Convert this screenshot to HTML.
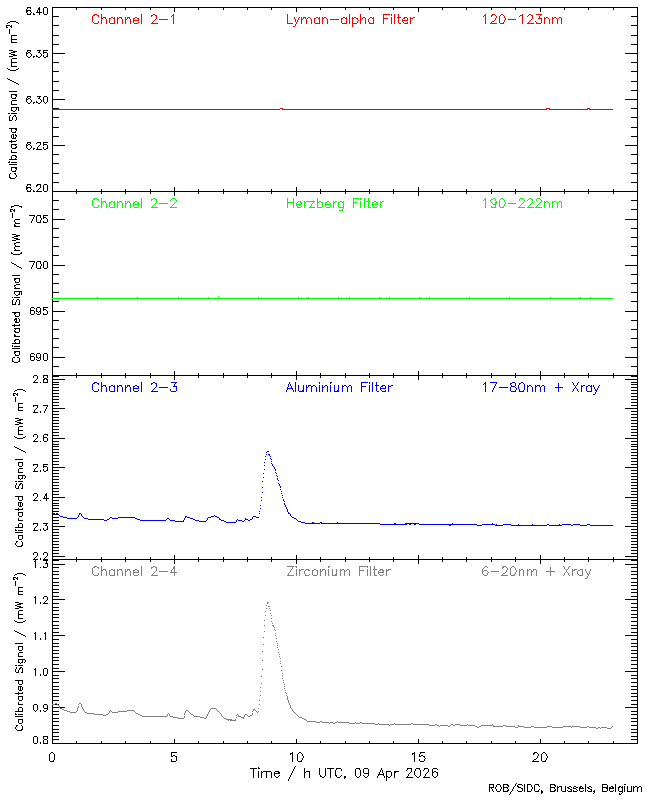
<!DOCTYPE html>
<html><head><meta charset="utf-8"><title>LYRA Calibrated Signal</title>
<style>
html,body{margin:0;padding:0;background:#fff;font-family:"Liberation Sans",sans-serif;}
svg{display:block}
</style></head><body>
<svg width="650" height="800" viewBox="0 0 650 800" shape-rendering="crispEdges" fill="none" stroke-width="1" stroke-linecap="butt">
<title>LYRA calibrated signal, 09 Apr 2026</title>
<desc>Channel 2-1 Lyman-alpha Filter 120-123nm; Channel 2-2 Herzberg Filter 190-222nm; Channel 2-3 Aluminium Filter 17-80nm + Xray; Channel 2-4 Zirconium Filter 6-20nm + Xray; Calibrated Signal / (mW m-2); Time / h UTC, 09 Apr 2026; ROB/SIDC, Brussels, Belgium</desc>
<rect x="0" y="0" width="650" height="800" fill="#fff" stroke="none"/>
<path stroke="#000000" d="M9.5 29v5M9.5 116v5M9.5 174v4M11.5 25v3M11.5 35v8M11.5 59v8M11.5 94v4M11.5 101v4M11.5 107v4M11.5 128v4M11.5 135v3M11.5 140v3M11.5 144v4M11.5 150v3M11.5 156v4M11.5 167v4M12.5 117v3M12.5 213v5M12.5 300v5M12.5 358v4M13.5 134v5M14.5 209v3M14.5 291v3M14.5 324v3M15.5 302v3M15.5 397v5M15.5 485v3M15.5 581v5M15.5 669v3M16.5 107v3M16.5 117v3M17.5 393v3M17.5 577v3M18.5 107v4M18.5 403v8M18.5 427v8M18.5 462v4M18.5 469v4M18.5 475v4M18.5 486v3M18.5 496v4M18.5 502v4M18.5 508v3M18.5 512v4M18.5 518v3M18.5 524v4M18.5 535v4M18.5 587v8M18.5 611v8M18.5 646v4M18.5 653v4M18.5 659v4M18.5 670v3M18.5 680v4M18.5 686v4M18.5 692v3M18.5 696v4M18.5 702v3M18.5 708v4M18.5 719v4M19.5 278v4M19.5 291v4M19.5 300v5M19.5 312v4M19.5 319v3M19.5 328v4M19.5 340v4M19.5 351v4M19.5 358v4M20.5 502v5M20.5 686v5M21.5 291v4M22.5 462v4M22.5 475v4M22.5 484v5M22.5 496v4M22.5 503v3M22.5 512v4M22.5 524v4M22.5 535v4M22.5 542v4M22.5 646v4M22.5 659v4M22.5 668v5M22.5 680v4M22.5 687v3M22.5 696v4M22.5 708v4M22.5 719v4M22.5 726v4M26.5 9v4M26.5 52v4M26.5 98v4M26.5 144v4M26.5 186v4M30.5 308v6M30.5 354v6M33.5 705v5M33.5 737v6M34.5 311v3M34.5 357v3M34.5 410v3M34.5 469v3M34.5 528v3M35.5 559v9M35.5 596v8M35.5 632v8M35.5 668v8M36.5 216v6M36.5 262v6M36.5 308v4M36.5 354v4M37.5 10v3M37.5 147v3M37.5 376v3M37.5 405v3M37.5 435v3M37.5 464v3M37.5 494v3M37.5 523v3M37.5 553v3M37.5 705v5M37.5 737v6M39.5 7v8M40.5 142v3M40.5 184v4M40.5 215v3M40.5 220v3M40.5 261v3M40.5 266v3M40.5 308v6M40.5 354v6M43.5 8v6M43.5 50v4M43.5 97v5M43.5 142v4M43.5 185v6M43.5 215v4M43.5 262v6M43.5 307v4M43.5 354v6M43.5 375v3M43.5 379v4M43.5 435v6M43.5 464v4M43.5 669v6M43.5 705v3M43.5 736v3M43.5 740v4M44.5 496v3M45.5 632v8M46.5 493v8M47.5 8v6M47.5 53v4M47.5 97v5M47.5 145v4M47.5 185v6M47.5 219v3M47.5 262v6M47.5 311v3M47.5 354v6M47.5 375v3M47.5 379v4M47.5 438v3M47.5 467v4M47.5 526v4M47.5 553v3M47.5 563v4M47.5 597v3M47.5 669v5M47.5 705v5M47.5 736v3M47.5 740v4M49.5 754v7M52.5 7v102M52.5 110v188M52.5 299v214M52.5 514v190M52.5 705v39M54.5 754v6M76.5 7v3M76.5 189v5M76.5 373v5M76.5 557v5M76.5 741v3M101.5 7v3M101.5 189v5M101.5 373v5M101.5 557v5M101.5 741v3M125.5 7v3M125.5 189v5M125.5 373v5M125.5 557v5M125.5 741v3M150.5 7v3M150.5 189v5M150.5 373v5M150.5 557v5M150.5 741v3M171.5 752v5M171.5 759v3M174.5 7v5M174.5 187v9M174.5 371v9M174.5 555v9M174.5 739v5M176.5 756v5M198.5 7v3M198.5 189v5M198.5 373v5M198.5 557v5M198.5 741v3M223.5 7v3M223.5 189v5M223.5 373v5M223.5 557v5M223.5 741v3M247.5 7v3M247.5 189v5M247.5 373v5M247.5 557v5M247.5 741v3M253.5 768v10M258.5 771v7M261.5 771v7M266.5 771v7M271.5 7v3M271.5 189v5M271.5 373v5M271.5 557v5M271.5 741v3M271.5 772v6M274.5 772v4M292.5 752v10M296.5 7v5M296.5 187v9M296.5 371v9M296.5 555v9M296.5 739v5M297.5 754v7M304.5 768v10M309.5 771v7M319.5 768v7M320.5 7v3M320.5 189v5M320.5 373v5M320.5 557v5M320.5 741v3M325.5 768v8M330.5 768v10M335.5 770v6M345.5 7v3M345.5 189v5M345.5 373v5M345.5 557v5M345.5 741v3M355.5 769v7M360.5 770v6M363.5 769v4M368.5 769v7M369.5 7v3M369.5 189v5M369.5 373v5M369.5 557v5M369.5 741v3M379.5 772v3M382.5 770v3M383.5 773v3M386.5 771v10M391.5 772v4M393.5 7v3M393.5 189v5M393.5 373v5M393.5 557v5M393.5 741v3M394.5 771v7M411.5 768v4M414.5 752v10M414.5 771v4M418.5 7v5M418.5 187v9M418.5 371v9M418.5 555v9M418.5 739v5M419.5 754v3M420.5 770v6M428.5 769v3M432.5 769v7M437.5 772v4M442.5 7v3M442.5 189v5M442.5 373v5M442.5 557v5M442.5 741v3M466.5 7v3M466.5 189v5M466.5 373v5M466.5 557v5M466.5 741v3M489.5 784v8M491.5 7v3M491.5 189v5M491.5 373v5M491.5 557v5M491.5 741v3M493.5 784v4M503.5 784v8M515.5 7v3M515.5 189v5M515.5 373v5M515.5 557v5M515.5 741v3M522.5 788v3M524.5 784v8M527.5 784v8M534.5 785v6M540.5 7v5M540.5 187v9M540.5 371v9M540.5 555v9M540.5 739v5M541.5 754v7M541.5 790v4M550.5 784v8M557.5 786v6M561.5 786v5M564.5 7v3M564.5 189v5M564.5 373v5M564.5 557v5M564.5 741v3M565.5 786v6M579.5 787v4M585.5 784v8M588.5 7v3M588.5 189v5M588.5 373v5M588.5 557v5M588.5 741v3M594.5 790v3M602.5 784v8M607.5 785v6M609.5 787v4M613.5 7v3M613.5 189v5M613.5 373v5M613.5 557v5M613.5 741v3M615.5 784v8M618.5 787v4M622.5 786v7M624.5 786v6M627.5 786v6M631.5 786v6M633.5 786v6M637.5 7v737M637.5 787v5M641.5 787v5M27 7.5h4M44 7.5h3M53 7.5h23M77 7.5h24M102 7.5h23M126 7.5h24M151 7.5h23M175 7.5h23M199 7.5h24M224 7.5h23M248 7.5h23M272 7.5h24M297 7.5h23M321 7.5h24M346 7.5h23M370 7.5h23M394 7.5h24M419 7.5h23M443 7.5h23M467 7.5h24M492 7.5h23M516 7.5h24M541 7.5h23M565 7.5h23M589 7.5h24M614 7.5h23M27 8.5h1M30 8.5h1M38 8.5h1M38 9.5h1M27 10.5h4M27 11.5h1M30 11.5h1M31 12.5h1M36 12.5h1M38 12.5h1M40 12.5h2M27 13.5h1M30 13.5h1M33 13.5h1M27 14.5h4M33 14.5h2M44 14.5h3M53 16.5h6M631 16.5h6M10 21.5h6M8 22.5h2M16 22.5h2M7 23.5h1M18 23.5h1M6 25.5h4M53 25.5h6M631 25.5h6M6 26.5h1M10 26.5h1M6 27.5h2M12 35.5h5M53 35.5h6M631 35.5h6M12 39.5h5M12 42.5h5M53 44.5h6M631 44.5h6M9 50.5h4M27 50.5h4M37 50.5h4M44 50.5h4M13 51.5h4M27 51.5h1M30 51.5h1M39 51.5h1M11 52.5h4M28 52.5h2M38 52.5h2M44 52.5h3M9 53.5h2M27 53.5h1M30 53.5h1M40 53.5h1M53 53.5h12M625 53.5h12M11 54.5h4M31 54.5h1M41 54.5h1M13 55.5h4M31 55.5h1M36 55.5h1M41 55.5h1M43 55.5h1M9 56.5h4M27 56.5h1M30 56.5h1M33 56.5h2M36 56.5h2M40 56.5h1M43 56.5h1M46 56.5h1M28 57.5h2M33 57.5h1M38 57.5h2M44 57.5h2M12 58.5h5M12 62.5h5M53 62.5h6M631 62.5h6M12 66.5h5M7 68.5h1M18 68.5h1M8 69.5h2M16 69.5h2M10 70.5h6M53 71.5h6M631 71.5h6M7 78.5h1M8 79.5h2M10 80.5h2M12 81.5h2M53 81.5h6M631 81.5h6M14 82.5h2M16 83.5h2M18 84.5h1M53 90.5h6M631 90.5h6M9 91.5h8M12 94.5h5M15 95.5h2M16 96.5h1M27 96.5h4M37 96.5h4M44 96.5h3M15 97.5h1M27 97.5h1M30 97.5h1M39 97.5h1M12 98.5h4M28 98.5h2M38 98.5h2M27 99.5h1M30 99.5h1M40 99.5h1M53 99.5h12M625 99.5h12M12 100.5h5M31 100.5h1M41 100.5h1M31 101.5h1M36 101.5h1M41 101.5h1M27 102.5h1M30 102.5h1M33 102.5h2M36 102.5h2M40 102.5h1M44 102.5h1M46 102.5h1M28 103.5h2M33 103.5h1M38 103.5h2M45 103.5h1M12 104.5h5M12 107.5h4M17 107.5h1M53 108.5h6M631 108.5h6M12 110.5h1M15 110.5h1M13 111.5h2M8 113.5h2M11 113.5h6M10 115.5h1M14 115.5h2M13 116.5h1M15 116.5h1M53 117.5h6M631 117.5h6M10 120.5h2M15 120.5h1M53 127.5h6M631 127.5h6M9 128.5h2M12 128.5h5M15 129.5h2M16 130.5h1M15 131.5h1M12 132.5h4M12 134.5h1M15 134.5h1M15 135.5h2M16 136.5h1M53 136.5h6M631 136.5h6M15 137.5h1M12 138.5h1M14 138.5h2M16 140.5h1M9 141.5h2M12 141.5h4M27 142.5h4M37 142.5h3M44 142.5h4M27 143.5h1M30 143.5h1M36 143.5h1M12 144.5h5M28 144.5h2M44 144.5h3M15 145.5h1M27 145.5h1M30 145.5h1M39 145.5h1M53 145.5h12M625 145.5h12M16 146.5h1M31 146.5h1M38 146.5h1M15 147.5h2M31 147.5h1M43 147.5h1M12 148.5h4M27 148.5h1M30 148.5h1M33 148.5h2M43 148.5h1M46 148.5h1M28 149.5h2M33 149.5h1M36 149.5h1M38 149.5h4M44 149.5h2M12 152.5h5M53 154.5h6M631 154.5h6M12 155.5h4M15 156.5h2M16 157.5h1M15 158.5h1M9 159.5h2M12 159.5h5M9 161.5h1M8 162.5h2M11 162.5h6M53 163.5h6M631 163.5h6M9 164.5h8M12 167.5h5M15 168.5h2M16 169.5h1M15 170.5h1M12 171.5h4M10 173.5h1M14 173.5h2M53 173.5h6M631 173.5h6M15 174.5h1M16 175.5h1M16 176.5h1M10 177.5h1M15 177.5h1M10 178.5h5M53 182.5h6M631 182.5h6M27 184.5h4M37 184.5h3M44 184.5h3M27 185.5h1M30 185.5h1M36 185.5h2M36 186.5h1M27 187.5h4M27 188.5h1M30 188.5h1M39 188.5h1M31 189.5h1M38 189.5h1M27 190.5h1M30 190.5h1M33 190.5h1M37 190.5h1M27 191.5h4M33 191.5h2M36 191.5h6M44 191.5h3M53 191.5h23M77 191.5h24M102 191.5h23M126 191.5h24M151 191.5h23M175 191.5h23M199 191.5h24M224 191.5h23M248 191.5h23M272 191.5h24M297 191.5h23M321 191.5h24M346 191.5h23M370 191.5h23M394 191.5h24M419 191.5h23M443 191.5h23M467 191.5h24M492 191.5h23M516 191.5h24M541 191.5h23M565 191.5h23M589 191.5h24M614 191.5h23M53 200.5h6M631 200.5h6M14 205.5h5M11 206.5h3M19 206.5h3M11 207.5h1M21 207.5h1M10 209.5h3M53 209.5h6M631 209.5h6M10 210.5h1M13 210.5h1M10 211.5h2M29 215.5h6M37 215.5h3M44 215.5h4M34 216.5h1M33 217.5h1M44 217.5h2M33 218.5h1M41 218.5h1M46 218.5h1M15 219.5h5M32 219.5h1M41 219.5h1M53 219.5h12M625 219.5h12M14 220.5h1M32 220.5h1M14 221.5h1M31 221.5h1M43 221.5h1M15 222.5h1M31 222.5h1M37 222.5h3M43 222.5h4M15 223.5h5M14 224.5h1M14 225.5h2M14 226.5h6M53 228.5h6M631 228.5h6M12 234.5h4M16 235.5h4M14 236.5h4M12 237.5h2M53 237.5h6M631 237.5h6M14 238.5h4M16 239.5h4M12 240.5h4M16 242.5h4M14 243.5h2M14 244.5h1M15 245.5h1M15 246.5h5M53 246.5h6M631 246.5h6M14 247.5h1M14 248.5h1M15 249.5h1M14 250.5h6M11 252.5h1M21 252.5h1M11 253.5h2M20 253.5h2M13 254.5h7M53 255.5h6M631 255.5h6M29 261.5h6M37 261.5h3M44 261.5h3M11 262.5h1M34 262.5h1M12 263.5h2M33 263.5h1M14 264.5h2M33 264.5h1M41 264.5h1M16 265.5h1M32 265.5h1M41 265.5h1M53 265.5h12M625 265.5h12M17 266.5h2M32 266.5h1M19 267.5h2M31 267.5h1M21 268.5h1M31 268.5h1M37 268.5h3M44 268.5h3M53 274.5h6M631 274.5h6M12 275.5h8M14 278.5h5M14 279.5h2M14 280.5h1M15 281.5h1M15 282.5h4M53 283.5h6M631 283.5h6M16 284.5h4M14 285.5h2M14 286.5h1M15 287.5h1M14 288.5h6M15 291.5h4M20 291.5h1M53 292.5h6M631 292.5h6M15 294.5h1M18 294.5h1M16 295.5h2M12 297.5h1M14 297.5h6M13 299.5h1M17 299.5h2M16 300.5h1M16 301.5h1M53 301.5h6M631 301.5h6M13 304.5h2M18 304.5h1M31 307.5h3M37 307.5h3M44 307.5h4M34 308.5h1M44 309.5h2M31 310.5h3M46 310.5h1M37 311.5h1M39 311.5h1M53 311.5h12M625 311.5h12M12 312.5h7M38 312.5h1M14 313.5h2M36 313.5h1M43 313.5h1M14 314.5h1M31 314.5h3M37 314.5h3M43 314.5h4M15 315.5h1M15 316.5h4M15 318.5h2M18 318.5h1M14 319.5h3M14 320.5h1M16 320.5h1M53 320.5h6M631 320.5h6M15 321.5h2M15 322.5h4M19 324.5h1M12 325.5h2M15 325.5h5M14 328.5h5M15 329.5h1M53 329.5h6M631 329.5h6M14 330.5h1M14 331.5h2M15 332.5h4M14 334.5h1M14 335.5h2M14 336.5h6M53 338.5h6M631 338.5h6M15 339.5h4M14 340.5h2M14 341.5h1M15 342.5h1M12 343.5h7M12 345.5h1M12 346.5h1M14 346.5h6M53 347.5h6M631 347.5h6M12 348.5h8M14 351.5h5M14 352.5h2M14 353.5h1M31 353.5h3M37 353.5h3M44 353.5h3M15 354.5h1M34 354.5h1M15 355.5h4M31 356.5h3M13 357.5h2M17 357.5h2M37 357.5h1M39 357.5h1M53 357.5h12M625 357.5h12M38 358.5h1M36 359.5h1M31 360.5h3M37 360.5h3M44 360.5h3M13 361.5h1M18 361.5h1M14 362.5h4M53 366.5h6M631 366.5h6M34 375.5h3M44 375.5h3M53 375.5h23M77 375.5h24M102 375.5h23M126 375.5h24M151 375.5h23M175 375.5h23M199 375.5h24M224 375.5h23M248 375.5h23M272 375.5h24M297 375.5h23M321 375.5h24M346 375.5h23M370 375.5h23M394 375.5h24M419 375.5h23M443 375.5h23M467 375.5h24M492 375.5h23M516 375.5h24M541 375.5h23M565 375.5h23M589 375.5h24M614 375.5h23M33 376.5h1M53 376.5h6M631 376.5h6M33 377.5h1M44 378.5h3M36 379.5h1M44 379.5h1M46 379.5h1M53 379.5h12M625 379.5h12M35 380.5h1M34 381.5h1M33 382.5h5M40 382.5h1M44 382.5h3M53 382.5h6M631 382.5h6M53 384.5h6M631 384.5h6M53 387.5h6M631 387.5h6M17 389.5h6M15 390.5h2M23 390.5h2M53 390.5h6M631 390.5h6M14 391.5h1M25 391.5h1M13 393.5h3M53 393.5h6M631 393.5h6M13 394.5h1M16 394.5h1M13 395.5h2M53 396.5h6M631 396.5h6M53 399.5h6M631 399.5h6M53 402.5h6M631 402.5h6M19 403.5h4M33 405.5h4M43 405.5h5M53 405.5h6M631 405.5h6M33 406.5h1M47 406.5h1M19 407.5h4M46 407.5h1M36 408.5h1M46 408.5h1M53 408.5h12M625 408.5h12M35 409.5h1M45 409.5h1M19 410.5h4M45 410.5h1M40 411.5h1M44 411.5h1M53 411.5h6M631 411.5h6M33 412.5h1M35 412.5h3M40 412.5h1M44 412.5h1M53 414.5h6M631 414.5h6M53 417.5h6M631 417.5h6M15 418.5h4M19 419.5h4M17 420.5h4M53 420.5h6M631 420.5h6M15 421.5h2M17 422.5h4M19 423.5h4M53 423.5h6M631 423.5h6M15 424.5h4M19 426.5h4M53 426.5h6M631 426.5h6M53 429.5h6M631 429.5h6M19 430.5h4M53 432.5h6M631 432.5h6M19 434.5h4M34 434.5h3M44 434.5h4M33 435.5h1M47 435.5h1M53 435.5h6M631 435.5h6M14 436.5h1M25 436.5h1M33 436.5h1M15 437.5h2M23 437.5h2M44 437.5h3M17 438.5h6M36 438.5h1M53 438.5h12M625 438.5h12M35 439.5h1M34 440.5h1M33 441.5h5M40 441.5h1M44 441.5h3M53 441.5h6M631 441.5h6M53 444.5h6M631 444.5h6M14 446.5h1M53 446.5h6M631 446.5h6M15 447.5h2M17 448.5h2M19 449.5h2M53 449.5h6M631 449.5h6M21 450.5h2M23 451.5h2M25 452.5h1M53 452.5h6M631 452.5h6M53 455.5h6M631 455.5h6M53 458.5h6M631 458.5h6M15 459.5h8M53 461.5h6M631 461.5h6M19 462.5h3M33 464.5h4M44 464.5h4M53 464.5h6M631 464.5h6M33 465.5h1M19 466.5h3M44 466.5h3M36 467.5h1M53 467.5h12M625 467.5h12M19 468.5h4M35 468.5h1M43 469.5h1M40 470.5h1M43 470.5h1M46 470.5h1M53 470.5h6M631 470.5h6M33 471.5h1M35 471.5h3M40 471.5h1M44 471.5h2M19 472.5h4M53 473.5h6M631 473.5h6M19 475.5h3M23 475.5h2M25 476.5h1M53 476.5h6M631 476.5h6M25 477.5h1M19 478.5h1M21 478.5h1M24 478.5h1M20 479.5h1M53 479.5h6M631 479.5h6M15 481.5h2M18 481.5h5M53 482.5h6M631 482.5h6M16 483.5h1M20 483.5h2M16 484.5h1M19 484.5h2M19 485.5h1M53 485.5h6M631 485.5h6M16 488.5h2M21 488.5h1M53 488.5h6M631 488.5h6M53 491.5h6M631 491.5h6M34 493.5h3M33 494.5h1M45 494.5h1M53 494.5h6M631 494.5h6M33 495.5h1M45 495.5h1M15 496.5h3M19 496.5h3M36 497.5h1M53 497.5h12M625 497.5h12M35 498.5h1M43 498.5h1M45 498.5h1M47 498.5h2M34 499.5h1M19 500.5h3M33 500.5h5M40 500.5h1M53 500.5h6M631 500.5h6M19 502.5h1M21 502.5h1M53 503.5h6M631 503.5h6M53 505.5h6M631 505.5h6M19 506.5h1M21 506.5h1M22 508.5h1M53 508.5h6M631 508.5h6M15 509.5h3M19 509.5h4M53 511.5h6M631 511.5h6M19 512.5h3M53 514.5h2M56 514.5h2M631 514.5h6M19 516.5h3M53 517.5h6M631 517.5h6M19 520.5h4M53 520.5h6M631 520.5h6M19 523.5h3M33 523.5h4M43 523.5h5M53 523.5h6M631 523.5h6M33 524.5h1M46 524.5h1M45 525.5h2M36 526.5h1M53 526.5h12M625 526.5h12M15 527.5h3M19 527.5h3M35 527.5h1M43 528.5h1M15 529.5h1M40 529.5h1M43 529.5h1M46 529.5h1M53 529.5h6M631 529.5h6M15 530.5h2M18 530.5h5M33 530.5h1M35 530.5h3M40 530.5h1M44 530.5h2M15 532.5h8M53 532.5h6M631 532.5h6M19 535.5h3M53 535.5h6M631 535.5h6M53 538.5h6M631 538.5h6M19 539.5h3M16 541.5h2M21 541.5h1M53 541.5h6M631 541.5h6M16 542.5h1M15 543.5h1M15 544.5h1M53 544.5h6M631 544.5h6M16 545.5h1M21 545.5h1M17 546.5h5M53 547.5h6M631 547.5h6M53 550.5h6M631 550.5h6M34 552.5h3M44 552.5h3M33 553.5h1M43 553.5h1M53 553.5h6M631 553.5h6M33 554.5h1M43 554.5h1M36 556.5h1M46 556.5h1M53 556.5h12M625 556.5h12M35 557.5h1M45 557.5h1M34 558.5h1M40 558.5h1M44 558.5h1M33 559.5h2M36 559.5h2M40 559.5h1M43 559.5h5M53 559.5h23M77 559.5h24M102 559.5h23M126 559.5h24M151 559.5h23M175 559.5h23M199 559.5h24M224 559.5h23M248 559.5h23M272 559.5h24M297 559.5h23M321 559.5h24M346 559.5h23M370 559.5h23M394 559.5h24M419 559.5h23M443 559.5h23M467 559.5h24M492 559.5h23M516 559.5h24M541 559.5h23M565 559.5h23M589 559.5h24M614 559.5h23M43 560.5h5M53 560.5h6M631 560.5h6M34 561.5h1M46 561.5h1M46 562.5h1M45 563.5h2M53 564.5h12M625 564.5h12M43 566.5h1M40 567.5h1M43 567.5h4M53 567.5h6M631 567.5h6M53 571.5h6M631 571.5h6M17 573.5h6M15 574.5h2M23 574.5h2M53 574.5h6M631 574.5h6M14 575.5h1M25 575.5h1M13 577.5h3M13 578.5h1M16 578.5h1M53 578.5h6M631 578.5h6M13 579.5h2M53 582.5h6M631 582.5h6M53 585.5h6M631 585.5h6M19 587.5h4M53 589.5h6M631 589.5h6M19 591.5h4M53 592.5h6M631 592.5h6M19 594.5h4M44 596.5h3M53 596.5h6M631 596.5h6M34 597.5h1M43 597.5h1M43 598.5h1M53 599.5h12M625 599.5h12M46 600.5h1M45 601.5h1M15 602.5h4M40 602.5h1M44 602.5h1M19 603.5h4M40 603.5h1M43 603.5h5M53 603.5h6M631 603.5h6M17 604.5h4M15 605.5h2M17 606.5h4M19 607.5h4M53 607.5h6M631 607.5h6M15 608.5h4M19 610.5h4M53 610.5h6M631 610.5h6M19 614.5h4M53 614.5h6M631 614.5h6M53 617.5h6M631 617.5h6M19 618.5h4M14 620.5h1M25 620.5h1M15 621.5h2M23 621.5h2M53 621.5h6M631 621.5h6M17 622.5h6M53 625.5h6M631 625.5h6M53 628.5h6M631 628.5h6M14 630.5h1M15 631.5h2M17 632.5h2M53 632.5h6M631 632.5h6M19 633.5h2M34 633.5h1M44 633.5h1M21 634.5h2M23 635.5h2M53 635.5h12M625 635.5h12M25 636.5h1M40 638.5h1M40 639.5h1M53 639.5h6M631 639.5h6M15 643.5h8M53 643.5h6M631 643.5h6M19 646.5h3M53 646.5h6M631 646.5h6M19 650.5h3M53 650.5h6M631 650.5h6M19 652.5h4M53 653.5h6M631 653.5h6M19 656.5h4M53 657.5h6M631 657.5h6M19 659.5h3M23 659.5h2M25 660.5h1M53 660.5h6M631 660.5h6M25 661.5h1M19 662.5h1M21 662.5h1M24 662.5h1M20 663.5h1M53 664.5h6M631 664.5h6M15 665.5h2M18 665.5h5M16 667.5h1M20 667.5h2M16 668.5h1M19 668.5h2M44 668.5h3M53 668.5h6M631 668.5h6M19 669.5h1M34 669.5h1M53 671.5h12M625 671.5h12M16 672.5h2M21 672.5h1M40 674.5h1M46 674.5h1M40 675.5h1M44 675.5h3M53 675.5h6M631 675.5h6M53 678.5h6M631 678.5h6M15 680.5h3M19 680.5h3M53 682.5h6M631 682.5h6M19 684.5h3M19 686.5h1M21 686.5h1M53 686.5h6M631 686.5h6M53 689.5h6M631 689.5h6M19 690.5h1M21 690.5h1M22 692.5h1M15 693.5h3M19 693.5h4M53 693.5h6M631 693.5h6M19 696.5h3M53 696.5h6M631 696.5h6M19 700.5h3M53 700.5h6M631 700.5h6M19 704.5h4M34 704.5h3M44 704.5h3M55 704.5h2M58 704.5h1M631 704.5h6M19 707.5h3M53 707.5h6M60 707.5h5M625 707.5h12M44 708.5h3M34 710.5h1M36 710.5h1M40 710.5h1M43 710.5h1M46 710.5h1M15 711.5h3M19 711.5h3M35 711.5h1M40 711.5h1M44 711.5h2M53 711.5h6M631 711.5h6M15 713.5h1M15 714.5h2M18 714.5h5M53 714.5h6M631 714.5h6M15 716.5h8M53 718.5h6M631 718.5h6M19 719.5h3M53 721.5h6M631 721.5h6M19 723.5h3M16 725.5h2M21 725.5h1M53 725.5h6M631 725.5h6M16 726.5h1M15 727.5h1M15 728.5h1M16 729.5h1M21 729.5h1M53 729.5h6M631 729.5h6M17 730.5h5M53 732.5h6M631 732.5h6M34 736.5h3M44 736.5h3M53 736.5h6M631 736.5h6M44 739.5h3M53 739.5h6M631 739.5h6M40 742.5h1M34 743.5h3M40 743.5h1M44 743.5h3M53 743.5h23M77 743.5h24M102 743.5h23M126 743.5h24M151 743.5h23M175 743.5h23M199 743.5h24M224 743.5h23M248 743.5h23M272 743.5h24M297 743.5h23M321 743.5h24M346 743.5h23M370 743.5h23M394 743.5h24M419 743.5h23M443 743.5h23M467 743.5h24M492 743.5h23M516 743.5h24M541 743.5h23M565 743.5h23M589 743.5h24M614 743.5h23M51 752.5h2M172 752.5h5M299 752.5h2M420 752.5h5M534 752.5h3M543 752.5h2M50 753.5h1M53 753.5h1M290 753.5h2M298 753.5h1M301 753.5h1M412 753.5h2M420 753.5h1M533 753.5h2M537 753.5h1M542 753.5h1M545 753.5h1M290 754.5h1M302 754.5h1M412 754.5h1M533 754.5h1M538 754.5h1M546 754.5h1M173 755.5h2M302 755.5h1M421 755.5h2M538 755.5h1M546 755.5h1M172 756.5h1M175 756.5h1M303 756.5h1M420 756.5h1M423 756.5h2M537 756.5h1M547 756.5h1M303 757.5h1M424 757.5h1M537 757.5h1M547 757.5h1M302 758.5h1M425 758.5h1M536 758.5h1M546 758.5h1M302 759.5h1M419 759.5h1M424 759.5h1M534 759.5h2M546 759.5h1M53 760.5h1M301 760.5h1M419 760.5h1M424 760.5h1M533 760.5h1M545 760.5h1M50 761.5h4M172 761.5h4M298 761.5h4M420 761.5h4M532 761.5h7M542 761.5h4M295 766.5h1M258 767.5h1M294 767.5h1M250 768.5h3M254 768.5h3M258 768.5h2M294 768.5h1M327 768.5h3M331 768.5h3M336 768.5h5M356 768.5h4M364 768.5h4M381 768.5h1M407 768.5h4M416 768.5h4M424 768.5h4M433 768.5h4M293 769.5h1M336 769.5h1M341 769.5h1M359 769.5h1M381 769.5h1M407 769.5h1M415 769.5h1M419 769.5h1M424 769.5h1M437 769.5h1M293 770.5h1M341 770.5h1M380 770.5h1M406 770.5h1M415 770.5h1M423 770.5h1M263 771.5h3M267 771.5h4M275 771.5h4M292 771.5h1M306 771.5h3M380 771.5h1M387 771.5h4M395 771.5h4M434 771.5h2M262 772.5h1M278 772.5h2M292 772.5h1M305 772.5h1M395 772.5h1M410 772.5h1M427 772.5h1M433 772.5h1M436 772.5h1M275 773.5h5M291 773.5h1M364 773.5h4M409 773.5h1M426 773.5h1M291 774.5h1M378 774.5h1M380 774.5h3M408 774.5h1M425 774.5h1M279 775.5h1M290 775.5h1M320 775.5h1M336 775.5h1M341 775.5h1M363 775.5h1M378 775.5h1M408 775.5h1M415 775.5h1M425 775.5h1M275 776.5h1M278 776.5h1M290 776.5h1M320 776.5h2M324 776.5h1M336 776.5h1M340 776.5h1M344 776.5h2M356 776.5h1M359 776.5h1M364 776.5h1M367 776.5h1M377 776.5h1M384 776.5h1M387 776.5h1M390 776.5h1M407 776.5h1M416 776.5h1M419 776.5h1M424 776.5h1M433 776.5h1M436 776.5h1M276 777.5h2M289 777.5h1M322 777.5h2M337 777.5h3M344 777.5h2M357 777.5h2M365 777.5h2M377 777.5h1M384 777.5h1M388 777.5h2M406 777.5h7M417 777.5h2M423 777.5h7M434 777.5h2M289 778.5h1M344 778.5h1M288 779.5h1M288 780.5h1M516 783.5h1M490 784.5h3M497 784.5h3M504 784.5h4M515 784.5h1M518 784.5h4M528 784.5h3M535 784.5h4M551 784.5h4M603 784.5h4M624 784.5h2M496 785.5h1M500 785.5h1M507 785.5h2M515 785.5h1M517 785.5h1M522 785.5h1M531 785.5h1M538 785.5h1M554 785.5h2M496 786.5h1M500 786.5h1M508 786.5h1M514 786.5h1M517 786.5h2M531 786.5h1M539 786.5h1M555 786.5h1M559 786.5h2M569 786.5h2M574 786.5h2M580 786.5h2M589 786.5h2M611 786.5h2M619 786.5h2M635 786.5h2M639 786.5h2M490 787.5h3M495 787.5h1M501 787.5h1M504 787.5h4M513 787.5h1M518 787.5h3M532 787.5h1M551 787.5h4M558 787.5h1M567 787.5h2M571 787.5h1M573 787.5h1M576 787.5h2M580 787.5h1M582 787.5h1M587 787.5h2M591 787.5h1M603 787.5h4M610 787.5h1M612 787.5h2M619 787.5h1M621 787.5h1M634 787.5h1M638 787.5h1M491 788.5h1M495 788.5h1M501 788.5h1M507 788.5h1M513 788.5h1M521 788.5h1M532 788.5h1M554 788.5h1M568 788.5h2M573 788.5h3M580 788.5h4M588 788.5h2M606 788.5h1M610 788.5h4M492 789.5h1M496 789.5h1M500 789.5h1M508 789.5h1M512 789.5h1M531 789.5h1M539 789.5h1M555 789.5h1M570 789.5h2M576 789.5h1M590 789.5h2M492 790.5h1M496 790.5h1M500 790.5h1M507 790.5h2M512 790.5h1M517 790.5h1M531 790.5h1M538 790.5h1M554 790.5h2M567 790.5h1M571 790.5h1M573 790.5h1M577 790.5h1M583 790.5h1M587 790.5h1M591 790.5h1M613 790.5h1M493 791.5h1M497 791.5h3M504 791.5h4M511 791.5h1M518 791.5h4M528 791.5h3M535 791.5h4M542 791.5h1M551 791.5h4M562 791.5h3M568 791.5h4M573 791.5h4M580 791.5h3M588 791.5h4M593 791.5h1M603 791.5h4M610 791.5h3M619 791.5h3M628 791.5h3M510 792.5h1M542 792.5h1M510 793.5h1M593 793.5h1M619 793.5h1M621 793.5h1M509 794.5h1M619 794.5h2"/>
<path stroke="#808080" d="M77.5 708v3M81.5 704v3M92.5 568v6M101.5 566v10M106.5 571v5M109.5 570v5M114.5 569v7M117.5 569v7M122.5 571v5M125.5 569v7M130.5 571v5M133.5 570v5M141.5 566v10M156.5 567v4M171.5 570v3M174.5 566v10M287.5 696v4M288.5 573v3M288.5 700v3M290.5 705v3M292.5 566v3M296.5 569v7M299.5 569v7M304.5 571v3M312.5 570v5M317.5 570v5M320.5 569v7M325.5 570v6M328.5 569v7M332.5 569v7M336.5 569v7M340.5 569v7M344.5 570v6M349.5 570v6M359.5 566v10M367.5 569v7M370.5 566v10M374.5 566v10M378.5 571v3M386.5 569v7M482.5 569v5M510.5 568v7M519.5 569v7M523.5 570v6M527.5 569v7M531.5 570v6M536.5 570v6M550.5 567v9M572.5 569v7M577.5 571v3M582.5 569v7M589.5 571v3M94 566.5h3M153 566.5h2M287 566.5h5M293 566.5h1M295 566.5h2M328 566.5h2M360 566.5h8M485 566.5h2M503 566.5h3M512 566.5h2M563 566.5h1M569 566.5h1M93 567.5h2M97 567.5h2M151 567.5h2M155 567.5h1M173 567.5h1M296 567.5h1M328 567.5h1M367 567.5h1M484 567.5h1M487 567.5h1M502 567.5h2M506 567.5h1M511 567.5h1M514 567.5h1M564 567.5h1M568 567.5h1M98 568.5h1M151 568.5h1M173 568.5h1M483 568.5h1M502 568.5h1M507 568.5h1M515 568.5h1M564 568.5h1M568 568.5h1M103 569.5h3M111 569.5h2M119 569.5h3M127 569.5h3M135 569.5h2M172 569.5h1M291 569.5h1M301 569.5h3M306 569.5h3M314 569.5h2M322 569.5h3M342 569.5h2M347 569.5h2M373 569.5h1M375 569.5h2M380 569.5h3M388 569.5h3M507 569.5h1M515 569.5h1M521 569.5h2M529 569.5h2M533 569.5h3M565 569.5h1M567 569.5h1M574 569.5h3M580 569.5h2M585 569.5h1M590 569.5h1M102 570.5h1M105 570.5h1M110 570.5h1M113 570.5h1M118 570.5h1M121 570.5h1M127 570.5h1M129 570.5h1M134 570.5h1M137 570.5h2M290 570.5h1M300 570.5h1M305 570.5h1M308 570.5h2M313 570.5h1M316 570.5h1M322 570.5h1M341 570.5h1M346 570.5h1M360 570.5h4M379 570.5h2M382 570.5h2M387 570.5h2M484 570.5h3M506 570.5h1M516 570.5h1M520 570.5h1M528 570.5h1M533 570.5h1M566 570.5h1M573 570.5h2M578 570.5h2M585 570.5h1M590 570.5h1M126 571.5h1M138 571.5h1M155 571.5h1M159 571.5h9M290 571.5h1M321 571.5h1M345 571.5h1M383 571.5h1M483 571.5h1M487 571.5h1M491 571.5h8M506 571.5h1M516 571.5h1M532 571.5h1M546 571.5h4M551 571.5h4M566 571.5h1M586 571.5h1M134 572.5h5M154 572.5h1M170 572.5h1M172 572.5h2M175 572.5h2M289 572.5h1M379 572.5h5M488 572.5h1M505 572.5h1M515 572.5h1M565 572.5h1M567 572.5h1M586 572.5h1M98 573.5h1M153 573.5h1M487 573.5h1M503 573.5h2M515 573.5h1M564 573.5h1M568 573.5h1M587 573.5h1M93 574.5h1M98 574.5h1M138 574.5h1M152 574.5h1M305 574.5h1M309 574.5h1M335 574.5h1M379 574.5h1M383 574.5h1M483 574.5h1M487 574.5h1M502 574.5h1M514 574.5h1M564 574.5h1M568 574.5h1M578 574.5h1M587 574.5h2M94 575.5h4M110 575.5h4M134 575.5h4M151 575.5h7M287 575.5h1M289 575.5h5M305 575.5h4M313 575.5h4M333 575.5h3M375 575.5h2M380 575.5h3M484 575.5h3M501 575.5h7M511 575.5h4M563 575.5h1M569 575.5h1M579 575.5h3M588 575.5h1M587 576.5h1M587 577.5h1M585 578.5h2M267 602.5h2M267 603.5h1M266 605.5h1M268 606.5h2M266 608.5h1M269 608.5h1M270 610.5h1M265 611.5h1M270 613.5h1M265 615.5h1M271 615.5h1M271 618.5h1M264 620.5h1M271 621.5h1M272 623.5h1M264 625.5h1M272 625.5h2M273 626.5h1M274 627.5h1M274 629.5h1M275 630.5h1M264 631.5h1M275 633.5h1M275 635.5h1M263 637.5h1M276 638.5h1M276 641.5h1M277 643.5h1M263 644.5h1M277 645.5h1M277 647.5h1M278 649.5h1M262 651.5h1M278 652.5h1M279 654.5h1M279 656.5h1M280 658.5h1M262 660.5h1M280 661.5h1M280 663.5h1M281 666.5h1M262 669.5h1M281 670.5h1M282 673.5h1M282 675.5h1M261 676.5h1M282 678.5h1M283 680.5h1M283 682.5h1M261 683.5h1M284 684.5h1M284 686.5h1M260 687.5h1M284 688.5h1M285 690.5h1M260 691.5h1M285 692.5h1M286 693.5h1M260 695.5h1M286 695.5h1M259 700.5h1M55 703.5h2M79 703.5h2M289 703.5h1M52 704.5h3M57 704.5h1M78 704.5h1M259 704.5h1M289 704.5h1M58 705.5h1M59 706.5h1M78 706.5h1M59 707.5h1M78 707.5h1M82 707.5h1M60 708.5h2M82 708.5h1M211 708.5h5M258 708.5h1M291 708.5h1M62 709.5h2M83 709.5h1M210 709.5h1M216 709.5h1M253 709.5h2M292 709.5h1M64 710.5h3M83 710.5h1M110 710.5h1M127 710.5h7M186 710.5h2M209 710.5h1M217 710.5h1M253 710.5h1M255 710.5h1M292 710.5h1M67 711.5h3M76 711.5h1M84 711.5h1M109 711.5h1M111 711.5h1M118 711.5h9M134 711.5h1M185 711.5h1M188 711.5h1M209 711.5h1M218 711.5h1M252 711.5h1M256 711.5h1M258 711.5h1M293 711.5h1M70 712.5h6M85 712.5h2M109 712.5h1M112 712.5h6M135 712.5h1M185 712.5h1M189 712.5h1M208 712.5h1M219 712.5h1M257 712.5h1M294 712.5h1M87 713.5h7M108 713.5h1M136 713.5h2M168 713.5h1M184 713.5h1M190 713.5h1M208 713.5h1M220 713.5h1M252 713.5h1M295 713.5h1M94 714.5h9M106 714.5h2M138 714.5h2M167 714.5h1M169 714.5h1M184 714.5h1M191 714.5h2M207 714.5h1M221 714.5h1M237 714.5h1M245 714.5h2M252 714.5h1M296 714.5h1M103 715.5h3M140 715.5h2M167 715.5h1M169 715.5h1M193 715.5h1M207 715.5h1M221 715.5h1M236 715.5h1M238 715.5h1M244 715.5h1M247 715.5h1M250 715.5h2M297 715.5h1M142 716.5h25M170 716.5h3M184 716.5h1M194 716.5h6M206 716.5h1M222 716.5h1M238 716.5h3M244 716.5h1M248 716.5h2M298 716.5h1M173 717.5h5M184 717.5h1M200 717.5h4M206 717.5h1M223 717.5h1M236 717.5h1M241 717.5h3M299 717.5h3M178 718.5h6M204 718.5h2M224 718.5h2M243 718.5h1M302 718.5h2M226 719.5h6M235 719.5h1M304 719.5h2M228 720.5h1M230 720.5h6M306 720.5h1M307 721.5h9M320 721.5h2M337 721.5h1M316 722.5h4M322 722.5h7M330 722.5h3M335 722.5h2M338 722.5h11M355 722.5h1M360 722.5h2M329 723.5h1M333 723.5h2M349 723.5h6M356 723.5h4M362 723.5h13M378 723.5h1M394 723.5h1M411 723.5h2M375 724.5h3M379 724.5h10M390 724.5h4M395 724.5h16M413 724.5h16M435 724.5h2M451 724.5h2M455 724.5h5M467 724.5h1M492 724.5h1M389 725.5h1M429 725.5h6M437 725.5h2M440 725.5h8M450 725.5h1M453 725.5h2M460 725.5h7M468 725.5h7M481 725.5h11M493 725.5h1M503 725.5h3M518 725.5h1M439 726.5h1M448 726.5h2M475 726.5h2M479 726.5h2M493 726.5h10M506 726.5h9M518 726.5h6M531 726.5h3M547 726.5h5M563 726.5h8M572 726.5h8M587 726.5h2M612 726.5h1M477 727.5h2M515 727.5h3M524 727.5h7M534 727.5h13M552 727.5h11M571 727.5h1M580 727.5h7M589 727.5h7M598 727.5h2M601 727.5h6M611 727.5h1M596 728.5h2M600 728.5h1M607 728.5h4"/>
<path stroke="#ff0000" d="M92.5 16v6M101.5 14v10M106.5 19v5M109.5 18v5M114.5 17v7M117.5 17v7M122.5 19v5M125.5 17v7M130.5 19v5M133.5 18v5M141.5 14v10M156.5 15v4M173.5 14v10M287.5 14v10M295.5 19v3M301.5 17v7M306.5 19v5M311.5 19v5M314.5 18v5M319.5 17v7M322.5 17v7M327.5 19v5M341.5 18v5M346.5 17v7M349.5 14v10M352.5 17v10M360.5 14v10M365.5 18v6M368.5 19v3M373.5 17v7M383.5 14v10M391.5 17v7M394.5 14v10M398.5 14v9M402.5 19v3M407.5 18v3M410.5 17v7M485.5 14v10M499.5 16v7M522.5 14v10M532.5 15v4M539.5 16v3M541.5 18v5M544.5 17v7M549.5 19v5M552.5 17v7M557.5 19v5M561.5 18v6M94 14.5h3M153 14.5h2M384 14.5h6M391 14.5h1M492 14.5h3M501 14.5h2M529 14.5h2M536 14.5h6M93 15.5h2M97 15.5h2M151 15.5h2M155 15.5h1M172 15.5h1M391 15.5h1M484 15.5h1M491 15.5h2M495 15.5h1M500 15.5h1M503 15.5h1M520 15.5h2M528 15.5h1M531 15.5h1M540 15.5h1M98 16.5h1M151 16.5h1M171 16.5h1M483 16.5h1M491 16.5h1M496 16.5h1M504 16.5h1M519 16.5h1M527 16.5h1M103 17.5h3M111 17.5h2M119 17.5h3M127 17.5h3M135 17.5h2M294 17.5h1M299 17.5h1M303 17.5h3M308 17.5h2M316 17.5h2M324 17.5h2M343 17.5h2M354 17.5h2M363 17.5h2M370 17.5h2M397 17.5h1M399 17.5h2M404 17.5h3M413 17.5h2M496 17.5h1M504 17.5h1M546 17.5h2M554 17.5h2M559 17.5h2M102 18.5h1M105 18.5h1M110 18.5h1M113 18.5h1M118 18.5h1M121 18.5h1M127 18.5h1M129 18.5h1M134 18.5h1M137 18.5h2M294 18.5h1M298 18.5h1M303 18.5h1M305 18.5h1M307 18.5h1M310 18.5h1M315 18.5h1M318 18.5h1M323 18.5h1M326 18.5h1M342 18.5h1M345 18.5h1M353 18.5h1M356 18.5h2M362 18.5h1M369 18.5h1M372 18.5h1M384 18.5h4M403 18.5h2M411 18.5h2M495 18.5h1M505 18.5h1M538 18.5h1M540 18.5h1M545 18.5h1M548 18.5h1M553 18.5h1M556 18.5h1M558 18.5h1M126 19.5h1M138 19.5h1M155 19.5h1M159 19.5h9M298 19.5h1M302 19.5h1M330 19.5h9M357 19.5h1M361 19.5h1M495 19.5h1M505 19.5h1M508 19.5h8M531 19.5h1M134 20.5h5M154 20.5h1M297 20.5h1M358 20.5h1M403 20.5h4M494 20.5h1M504 20.5h1M530 20.5h1M98 21.5h1M153 21.5h1M297 21.5h1M357 21.5h1M492 21.5h2M504 21.5h1M529 21.5h1M535 21.5h1M93 22.5h1M98 22.5h1M138 22.5h1M152 22.5h1M296 22.5h1M357 22.5h1M369 22.5h1M403 22.5h1M407 22.5h1M491 22.5h1M503 22.5h1M528 22.5h1M536 22.5h1M94 23.5h4M110 23.5h4M134 23.5h4M151 23.5h7M288 23.5h5M296 23.5h1M315 23.5h4M342 23.5h4M353 23.5h4M369 23.5h4M399 23.5h2M404 23.5h4M490 23.5h7M500 23.5h4M527 23.5h7M536 23.5h5M295 24.5h1M295 25.5h1M293 26.5h2M280 108.5h3M546 108.5h4M587 108.5h3M52 109.5h228M282 109.5h265M549 109.5h39M589 109.5h24"/>
<path stroke="#00ff00" d="M92.5 200v6M101.5 198v10M106.5 203v5M109.5 202v5M114.5 201v7M117.5 201v7M122.5 203v5M125.5 201v7M130.5 203v5M133.5 202v5M141.5 198v10M156.5 199v4M287.5 198v10M293.5 198v10M296.5 203v3M304.5 201v7M317.5 198v10M322.5 202v5M325.5 202v5M333.5 201v7M338.5 202v5M343.5 201v8M353.5 198v10M360.5 201v7M364.5 198v10M368.5 198v10M372.5 202v5M380.5 201v7M485.5 198v10M499.5 200v7M532.5 199v4M544.5 201v7M549.5 203v5M552.5 201v7M557.5 203v5M561.5 202v6M94 198.5h3M153 198.5h2M172 198.5h3M354 198.5h5M360 198.5h2M493 198.5h2M501 198.5h2M520 198.5h3M529 198.5h2M537 198.5h3M93 199.5h2M97 199.5h2M151 199.5h2M155 199.5h1M171 199.5h1M175 199.5h1M360 199.5h1M484 199.5h1M491 199.5h2M495 199.5h1M500 199.5h1M503 199.5h1M519 199.5h1M523 199.5h1M528 199.5h1M531 199.5h1M536 199.5h1M540 199.5h1M98 200.5h1M151 200.5h1M170 200.5h1M176 200.5h1M483 200.5h1M490 200.5h1M495 200.5h1M504 200.5h1M519 200.5h1M524 200.5h1M527 200.5h1M536 200.5h1M541 200.5h1M103 201.5h3M111 201.5h2M119 201.5h3M127 201.5h3M135 201.5h2M176 201.5h1M298 201.5h3M306 201.5h9M319 201.5h2M327 201.5h2M335 201.5h2M340 201.5h2M366 201.5h2M369 201.5h1M374 201.5h2M382 201.5h2M490 201.5h1M496 201.5h1M504 201.5h1M524 201.5h1M541 201.5h1M546 201.5h2M554 201.5h2M559 201.5h2M102 202.5h1M105 202.5h1M110 202.5h1M113 202.5h1M118 202.5h1M121 202.5h1M127 202.5h1M129 202.5h1M134 202.5h1M137 202.5h2M175 202.5h1M288 202.5h5M297 202.5h1M300 202.5h2M305 202.5h1M313 202.5h1M318 202.5h1M321 202.5h1M326 202.5h1M329 202.5h1M334 202.5h1M339 202.5h1M342 202.5h1M354 202.5h3M373 202.5h1M376 202.5h2M381 202.5h1M491 202.5h1M495 202.5h2M505 202.5h1M523 202.5h1M540 202.5h1M545 202.5h1M548 202.5h1M553 202.5h1M556 202.5h1M558 202.5h1M126 203.5h1M138 203.5h1M155 203.5h1M159 203.5h9M174 203.5h1M301 203.5h1M312 203.5h1M330 203.5h1M377 203.5h1M492 203.5h1M495 203.5h2M505 203.5h1M508 203.5h8M522 203.5h1M531 203.5h1M539 203.5h1M134 204.5h5M154 204.5h1M173 204.5h1M297 204.5h5M311 204.5h1M326 204.5h5M373 204.5h5M493 204.5h3M504 204.5h1M521 204.5h1M530 204.5h1M538 204.5h1M98 205.5h1M153 205.5h1M172 205.5h1M311 205.5h1M495 205.5h1M504 205.5h1M520 205.5h1M529 205.5h1M537 205.5h1M93 206.5h1M98 206.5h1M138 206.5h1M152 206.5h1M171 206.5h1M297 206.5h1M301 206.5h1M310 206.5h1M330 206.5h1M377 206.5h1M491 206.5h1M495 206.5h1M503 206.5h1M519 206.5h1M528 206.5h1M536 206.5h1M94 207.5h4M110 207.5h4M134 207.5h4M151 207.5h7M170 207.5h7M297 207.5h4M309 207.5h6M318 207.5h4M326 207.5h4M339 207.5h4M369 207.5h2M373 207.5h4M491 207.5h5M500 207.5h4M518 207.5h7M527 207.5h7M535 207.5h7M342 209.5h1M339 210.5h4M218 296.5h1M97 297.5h1M137 297.5h1M178 297.5h1M208 297.5h1M258 297.5h1M298 297.5h1M308 297.5h1M338 297.5h1M349 297.5h1M379 297.5h1M389 297.5h1M419 297.5h1M429 297.5h1M469 297.5h1M509 297.5h1M550 297.5h1M580 297.5h1M590 297.5h1M52 298.5h561"/>
<path stroke="#0000ff" d="M92.5 384v6M101.5 382v10M106.5 387v5M109.5 386v5M114.5 385v7M117.5 385v7M122.5 387v5M125.5 385v7M130.5 387v5M133.5 386v5M141.5 382v10M156.5 383v4M174.5 384v3M176.5 386v5M287.5 387v3M287.5 509v3M288.5 384v3M291.5 386v3M295.5 382v10M298.5 385v6M303.5 385v7M306.5 385v7M311.5 386v6M316.5 387v5M319.5 385v7M322.5 385v7M327.5 386v6M330.5 385v7M334.5 385v7M338.5 385v7M342.5 385v7M347.5 387v5M351.5 386v6M361.5 382v10M369.5 385v7M372.5 382v10M376.5 382v9M380.5 387v3M385.5 386v3M388.5 385v7M485.5 382v10M510.5 387v4M515.5 383v3M518.5 385v4M519.5 389v3M524.5 384v6M527.5 385v7M532.5 387v5M535.5 385v7M540.5 387v5M544.5 386v6M558.5 383v9M581.5 385v7M586.5 386v5M591.5 385v7M94 382.5h3M153 382.5h2M171 382.5h6M289 382.5h1M319 382.5h1M330 382.5h2M362 382.5h6M369 382.5h1M490 382.5h7M512 382.5h3M521 382.5h2M572 382.5h1M578 382.5h1M93 383.5h2M97 383.5h2M151 383.5h2M155 383.5h1M175 383.5h1M289 383.5h1M319 383.5h1M330 383.5h1M369 383.5h1M484 383.5h1M496 383.5h1M510 383.5h2M519 383.5h2M523 383.5h1M573 383.5h1M577 383.5h1M98 384.5h1M151 384.5h1M290 384.5h1M483 384.5h1M495 384.5h1M510 384.5h1M519 384.5h1M573 384.5h1M577 384.5h1M103 385.5h3M111 385.5h2M119 385.5h3M127 385.5h3M135 385.5h2M290 385.5h1M308 385.5h3M313 385.5h2M325 385.5h2M344 385.5h2M349 385.5h2M375 385.5h1M377 385.5h2M382 385.5h3M391 385.5h2M495 385.5h1M511 385.5h1M529 385.5h2M537 385.5h3M542 385.5h2M574 385.5h1M576 385.5h1M583 385.5h2M588 385.5h2M593 385.5h1M599 385.5h1M102 386.5h1M105 386.5h1M110 386.5h1M113 386.5h1M118 386.5h1M121 386.5h1M127 386.5h1M129 386.5h1M134 386.5h1M137 386.5h2M173 386.5h1M175 386.5h1M308 386.5h1M312 386.5h1M315 386.5h1M324 386.5h1M343 386.5h1M346 386.5h1M348 386.5h1M362 386.5h4M381 386.5h2M389 386.5h2M494 386.5h1M511 386.5h4M528 386.5h1M531 386.5h1M536 386.5h1M539 386.5h1M541 386.5h1M575 386.5h1M582 386.5h1M587 386.5h1M590 386.5h1M593 386.5h1M598 386.5h1M126 387.5h1M138 387.5h1M155 387.5h1M159 387.5h9M307 387.5h1M323 387.5h1M494 387.5h1M499 387.5h9M515 387.5h1M555 387.5h3M559 387.5h4M575 387.5h1M594 387.5h1M598 387.5h1M134 388.5h5M154 388.5h1M288 388.5h3M292 388.5h1M381 388.5h4M493 388.5h1M516 388.5h1M574 388.5h1M576 388.5h1M594 388.5h1M597 388.5h1M98 389.5h1M153 389.5h1M170 389.5h1M292 389.5h1M493 389.5h1M516 389.5h1M573 389.5h1M577 389.5h1M595 389.5h1M597 389.5h1M93 390.5h1M98 390.5h1M138 390.5h1M152 390.5h1M170 390.5h1M286 390.5h1M293 390.5h1M302 390.5h1M337 390.5h1M381 390.5h1M385 390.5h1M492 390.5h1M515 390.5h1M523 390.5h1M573 390.5h1M577 390.5h1M595 390.5h2M94 391.5h4M110 391.5h4M134 391.5h4M151 391.5h7M171 391.5h5M286 391.5h1M293 391.5h1M299 391.5h4M335 391.5h3M377 391.5h2M382 391.5h4M492 391.5h1M511 391.5h5M520 391.5h4M572 391.5h1M578 391.5h1M587 391.5h4M596 391.5h1M595 392.5h1M595 393.5h1M593 394.5h2M267 451.5h2M266 452.5h1M266 454.5h1M268 454.5h2M269 455.5h1M265 456.5h1M270 456.5h1M270 458.5h1M265 459.5h1M271 459.5h1M271 461.5h1M264 462.5h1M271 463.5h1M272 464.5h1M264 465.5h1M272 465.5h1M273 466.5h1M274 467.5h1M274 468.5h1M264 469.5h1M275 469.5h1M275 470.5h1M275 472.5h1M263 473.5h1M276 473.5h1M276 475.5h1M277 476.5h1M263 477.5h1M277 478.5h1M277 479.5h1M278 480.5h1M262 481.5h1M278 483.5h1M279 484.5h1M279 485.5h1M280 486.5h1M262 487.5h1M280 487.5h1M280 489.5h1M281 491.5h1M262 492.5h1M281 493.5h1M282 495.5h1M261 497.5h1M282 497.5h1M283 499.5h1M261 500.5h1M283 500.5h1M284 501.5h1M284 503.5h1M284 504.5h1M260 505.5h1M285 505.5h1M285 506.5h1M286 507.5h1M260 508.5h1M286 508.5h1M259 511.5h1M288 512.5h1M52 513.5h3M56 513.5h2M79 513.5h2M259 513.5h1M288 513.5h2M55 514.5h1M58 514.5h1M79 514.5h1M81 514.5h1M290 514.5h1M59 515.5h1M78 515.5h1M81 515.5h1M214 515.5h1M290 515.5h1M60 516.5h3M78 516.5h1M82 516.5h1M185 516.5h2M211 516.5h3M215 516.5h2M253 516.5h3M291 516.5h1M63 517.5h4M77 517.5h1M83 517.5h1M110 517.5h2M118 517.5h17M185 517.5h1M187 517.5h3M208 517.5h3M217 517.5h2M252 517.5h1M256 517.5h3M292 517.5h2M67 518.5h10M84 518.5h4M109 518.5h1M112 518.5h6M135 518.5h2M167 518.5h2M184 518.5h1M190 518.5h3M207 518.5h1M219 518.5h1M245 518.5h1M252 518.5h1M294 518.5h2M88 519.5h16M107 519.5h2M137 519.5h3M166 519.5h1M169 519.5h1M184 519.5h1M193 519.5h2M207 519.5h1M219 519.5h2M237 519.5h1M245 519.5h3M250 519.5h2M296 519.5h1M104 520.5h3M140 520.5h26M170 520.5h5M183 520.5h1M195 520.5h4M206 520.5h1M221 520.5h3M236 520.5h1M238 520.5h4M244 520.5h1M248 520.5h2M297 520.5h1M175 521.5h9M199 521.5h7M224 521.5h2M236 521.5h1M242 521.5h2M298 521.5h3M226 522.5h10M301 522.5h4M312 522.5h2M320 522.5h2M337 522.5h1M305 523.5h15M321 523.5h59M394 523.5h2M405 523.5h14M452 523.5h1M492 523.5h1M380 524.5h27M409 524.5h2M414 524.5h2M419 524.5h58M482 524.5h13M496 524.5h1M503 524.5h8M518 524.5h1M532 524.5h1M547 524.5h2M559 524.5h1M562 524.5h9M573 524.5h7M587 524.5h3M449 525.5h2M477 525.5h5M495 525.5h8M511 525.5h36M549 525.5h13M571 525.5h2M580 525.5h7M590 525.5h23"/>
</svg>
</body></html>
